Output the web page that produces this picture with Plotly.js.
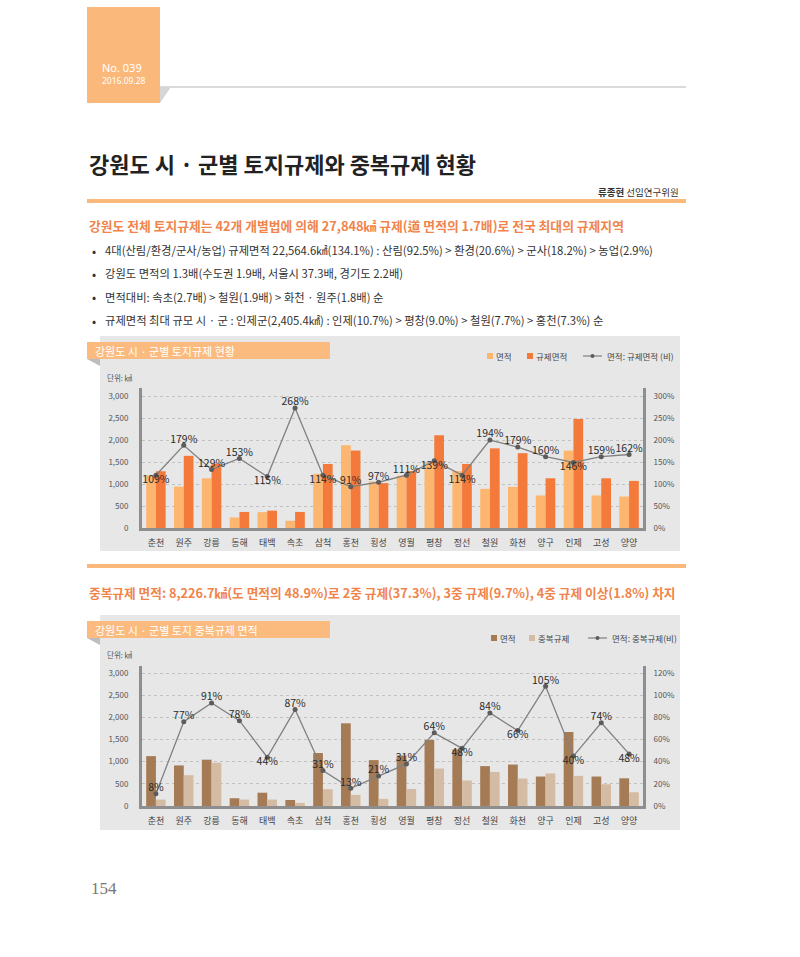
<!DOCTYPE html>
<html><head><meta charset="utf-8">
<script src="https://cdn.plot.ly/plotly-3.0.1.min.js"></script>
<style>html,body{margin:0;padding:0;background:#fff}#chart{width:800px;height:957px}</style>
</head><body><div id="chart"></div>
<script>
// ---------- DATA ----------
const categories = ['춘천','원주','강릉','동해','태백','속초','삼척','홍천','횡성','영월','평창','정선','철원','화천','양구','인제','고성','양양'];

// Chart 1: 토지규제 현황 (㎢)
const area1 = [1200, 940, 1130, 240, 360, 165, 1230, 1880, 1055, 1190, 1490, 1295, 890, 935, 740, 1760, 740, 715];
const regArea1 = [1290, 1640, 1455, 365, 395, 365, 1455, 1760, 1020, 1295, 2110, 1455, 1810, 1700, 1130, 2480, 1130, 1070];
const ratio1 = [120, 188, 133, 158, 117, 273, 120, 94, 104, 120, 153, 120, 200, 184, 162, 149, 162, 167];
const ratio1Labels = [109, 179, 129, 153, 115, 268, 114, 91, 97, 111, 139, 114, 194, 179, 160, 146, 159, 162];
const ratio1LabelPos = ['b','t','t','t','b','t','b','t','t','t','b','b','t','t','t','b','t','t'];

// Chart 2: 토지 중복규제 면적 (㎢)
const area2 = [1125, 915, 1045, 175, 300, 135, 1195, 1865, 1035, 1140, 1490, 1275, 900, 935, 665, 1670, 665, 625];
const dupArea2 = [145, 695, 975, 145, 145, 70, 380, 250, 160, 385, 845, 575, 770, 620, 735, 680, 490, 310];
const ratio2 = [11, 76, 93, 77, 44, 87, 32, 16, 27, 38, 66, 52, 84, 68, 108, 45, 75, 47];
const ratio2Labels = [8, 77, 91, 78, 44, 87, 31, 13, 21, 31, 64, 48, 84, 66, 105, 40, 74, 48];
const ratio2LabelPos = ['t','t','t','t','b','t','t','t','t','t','t','b','t','b','t','b','t','b'];

const leftTicks = [0, 500, 1000, 1500, 2000, 2500, 3000];
const rightTicks1 = [0, 50, 100, 150, 200, 250, 300];
const rightTicks2 = [0, 20, 40, 60, 80, 100, 120];

const legend1Names = ['면적', '규제면적', '면적: 규제면적 (비)'];
const legend2Names = ['면적', '중복규제', '면적: 중복규제(비)'];

// ---------- STYLE ----------
const W = 800, H = 957;
const px = x => x / W;
const py = y => 1 - y / H;
const KR = 'Noto Sans CJK KR, sans-serif';
const posMap = p => p === 't' ? 'top center' : 'bottom center';
const C1a = '#FDB66F', C1b = '#F37A3B', C2a = '#A57B56', C2b = '#D4BCA4';
const lineC = '#808080', dotC = '#5c5c5c';

const traces = [
  {type:'bar', name:legend1Names[0], x:categories, y:area1, xaxis:'x', yaxis:'y', marker:{color:C1a}, hoverinfo:'skip'},
  {type:'bar', name:legend1Names[1], x:categories, y:regArea1, xaxis:'x', yaxis:'y', marker:{color:C1b}, hoverinfo:'skip'},
  {type:'scatter', mode:'lines+markers', name:legend1Names[2], x:categories, y:ratio1, xaxis:'x', yaxis:'y2',
   line:{color:lineC, width:1.3}, marker:{color:dotC, size:5}, hoverinfo:'skip'},
  {type:'scatter', mode:'text', x:categories, y:ratio1, xaxis:'x', yaxis:'y2',
   text:ratio1Labels.map(v => v + '%'), textposition:ratio1LabelPos.map(posMap),
   textfont:{family:KR, size:10.5, color:'#2b2b2b'}, hoverinfo:'skip'},

  {type:'bar', name:legend2Names[0], x:categories, y:area2, xaxis:'x2', yaxis:'y3', marker:{color:C2a}, hoverinfo:'skip'},
  {type:'bar', name:legend2Names[1], x:categories, y:dupArea2, xaxis:'x2', yaxis:'y3', marker:{color:C2b}, hoverinfo:'skip'},
  {type:'scatter', mode:'lines+markers', name:legend2Names[2], x:categories, y:ratio2, xaxis:'x2', yaxis:'y4',
   line:{color:lineC, width:1.3}, marker:{color:dotC, size:5}, hoverinfo:'skip'},
  {type:'scatter', mode:'text', x:categories, y:ratio2, xaxis:'x2', yaxis:'y4',
   text:ratio2Labels.map(v => v + '%'), textposition:ratio2LabelPos.map(posMap),
   textfont:{family:KR, size:10.5, color:'#2b2b2b'}, hoverinfo:'skip'}
];

const axisLine = {showline:true, linecolor:'#8e8e8e', linewidth:3, zeroline:false, fixedrange:true};
const xBase = Object.assign({}, axisLine, {type:'category', range:[-0.5, 17.5], ticks:'', showgrid:false,
  tickfont:{family:KR, size:9, color:'#444'}, ticklabelstandoff:4, domain:[px(142), px(643)]});
const yLeftBase = Object.assign({}, axisLine, {tickvals:leftTicks, ticktext:leftTicks.map(v => v.toLocaleString('en-US')), showgrid:true,
  gridcolor:'#c2c2c2', griddash:'dot', gridwidth:1, ticks:'', tickfont:{family:KR, size:8, color:'#555'}, ticklabelstandoff:9});
const yRightBase = Object.assign({}, axisLine, {side:'right', showgrid:false, ticks:'',
  tickfont:{family:KR, size:8, color:'#555'}, ticklabelstandoff:6});

// ---------- PAGE DECORATION ----------
const rectS = (x0, y0, x1, y1, fill) => ({type:'rect', xref:'paper', yref:'paper', x0:px(x0), x1:px(x1), y0:py(y1), y1:py(y0), fillcolor:fill, line:{width:0}, layer:'below'});
const lineS = (x0, y0, x1, y1, color, w, layer) => ({type:'line', xref:'paper', yref:'paper', x0:px(x0), x1:px(x1), y0:py(y0), y1:py(y1), line:{color:color, width:w}, layer:layer || 'below'});
const triS = (pts, fill) => ({type:'path', xref:'paper', yref:'paper', path:'M ' + pts.map(p => px(p[0]) + ' ' + py(p[1])).join(' L ') + ' Z', fillcolor:fill, line:{width:0}, layer:'below'});

const shapes = [
  rectS(87, 7, 160, 103, '#FBB87B'),
  lineS(160, 87, 686, 87, '#cfcfcf', 1.5),
  triS([[160,87],[171,87],[160,103]], '#d6d6d6'),
  lineS(87, 201, 686, 201, '#FBB87B', 4),
  rectS(100, 336, 680, 551, '#E7E7E8'),
  rectS(87, 342, 330, 359, '#FCBB7E'),
  triS([[87,359],[100,359],[100,366]], '#bdbdbd'),
  lineS(87, 566, 686, 566, '#FBB87B', 4),
  rectS(100, 615, 680, 830, '#E7E7E8'),
  rectS(87, 621, 330, 638, '#FCBB7E'),
  triS([[87,638],[100,638],[100,645]], '#bdbdbd')
];

function txt(text, x, y, size, opts) {
  return Object.assign({text:text, xref:'paper', yref:'paper', x:px(x), y:py(y), xanchor:'left', yanchor:'middle',
    showarrow:false, font:{family:KR, size:size, color:'#333'}}, opts || {});
}

// custom legends (drawn as swatches + text)
function addLegend(names, colors, xs, y) {
  const f = {family:KR, size:8.5, color:'#444'};
  shapes.push(Object.assign(rectS(xs[0], y - 3, xs[0] + 6, y + 3, colors[0]), {layer:'above'}));
  annotations.push(txt(names[0], xs[0] + 7, y, 8.5, {font:f}));
  shapes.push(Object.assign(rectS(xs[1], y - 3, xs[1] + 6, y + 3, colors[1]), {layer:'above'}));
  annotations.push(txt(names[1], xs[1] + 7, y, 8.5, {font:f}));
  shapes.push(lineS(xs[2], y, xs[2] + 19, y, lineC, 1.2, 'above'));
  shapes.push({type:'circle', xref:'paper', yref:'paper', x0:px(xs[2] + 7.5), x1:px(xs[2] + 11.5), y0:py(y + 2), y1:py(y - 2), fillcolor:dotC, line:{width:0}, layer:'above'});
  annotations.push(txt(names[2], xs[2] + 22, y, 8.5, {font:f}));
}

const orange = '#F0844B';
const annotations = [
  txt('No. 039', 100, 68, 11, {font:{family:'Noto Sans, sans-serif', size:11, color:'#fff'}}),
  txt('2016.09.28', 100, 80, 8.5, {font:{family:'Noto Sans, sans-serif', size:8.5, color:'#fff'}}),
  txt('<b>강원도 시 · 군별 토지규제와 중복규제 현황</b>', 87, 163, 22, {font:{family:KR, size:22, color:'#222'}}),
  txt('<b>류종현</b> 선임연구위원', 681, 192, 9.5, {xanchor:'right', font:{family:KR, size:9.5, color:'#333'}}),
  txt('<b>강원도 전체 토지규제는 42개 개별법에 의해 27,848㎢ 규제(道 면적의 1.7배)로 전국 최대의 규제지역</b>', 87, 226, 12.8, {font:{family:KR, size:12.8, color:orange}}),
  txt('•', 90, 250, 12), txt('4대(산림/환경/군사/농업) 규제면적 22,564.6㎢(134.1%) : 산림(92.5%) > 환경(20.6%) > 군사(18.2%) > 농업(2.9%)', 103, 250, 11.3),
  txt('•', 90, 273, 12), txt('강원도 면적의 1.3배(수도권 1.9배, 서울시 37.3배, 경기도 2.2배)', 103, 273, 11.3),
  txt('•', 90, 297, 12), txt('면적대비: 속초(2.7배) > 철원(1.9배) > 화천 · 원주(1.8배) 순', 103, 297, 11.3),
  txt('•', 90, 320, 12), txt('규제면적 최대 규모 시 · 군 : 인제군(2,405.4㎢) : 인제(10.7%) > 평창(9.0%) > 철원(7.7%) > 홍천(7.3%) 순', 103, 320, 11.3),
  txt('강원도 시 · 군별 토지규제 현황', 93, 350.5, 11, {font:{family:KR, size:11, color:'#fff'}}),
  txt('단위: ㎢', 105, 377, 7.5, {font:{family:KR, size:7.5, color:'#555'}}),
  txt('<b>중복규제 면적: 8,226.7㎢(도 면적의 48.9%)로 2중 규제(37.3%), 3중 규제(9.7%), 4중 규제 이상(1.8%) 차지</b>', 87, 592, 12.7, {font:{family:KR, size:12.7, color:orange}}),
  txt('강원도 시 · 군별 토지 중복규제 면적', 93, 629.5, 11, {font:{family:KR, size:11, color:'#fff'}}),
  txt('단위: ㎢', 105, 654, 7.5, {font:{family:KR, size:7.5, color:'#555'}}),
  txt('154', 89, 888, 17, {font:{family:'Liberation Serif, serif', size:17, color:'#777'}})
];

addLegend(legend1Names, [C1a, C1b], [487, 527, 583], 356);
addLegend(legend2Names, [C2a, C2b], [491, 529, 588], 638);

const layout = {
  width:W, height:H, margin:{l:0, r:0, t:0, b:0, autoexpand:false},
  paper_bgcolor:'#ffffff', plot_bgcolor:'rgba(0,0,0,0)',
  font:{family:KR, color:'#333'},
  barmode:'group', bargap:0.3, bargroupgap:0,
  hovermode:false, showlegend:false,
  xaxis: Object.assign({}, xBase, {anchor:'y'}),
  yaxis: Object.assign({}, yLeftBase, {anchor:'x', domain:[py(528), py(388)], range:[0, 3182]}),
  yaxis2: Object.assign({}, yRightBase, {overlaying:'y', anchor:'x', range:[0, 318.2], tickvals:rightTicks1, ticktext:rightTicks1.map(v => v + '%')}),
  xaxis2: Object.assign({}, xBase, {anchor:'y3'}),
  yaxis3: Object.assign({}, yLeftBase, {anchor:'x2', domain:[py(806), py(666)], range:[0, 3158]}),
  yaxis4: Object.assign({}, yRightBase, {overlaying:'y3', anchor:'x2', range:[0, 126.3], tickvals:rightTicks2, ticktext:rightTicks2.map(v => v + '%')}),
  shapes:shapes, annotations:annotations
};

Plotly.newPlot('chart', traces, layout, {staticPlot:true, displayModeBar:false});
</script>
</body></html>
